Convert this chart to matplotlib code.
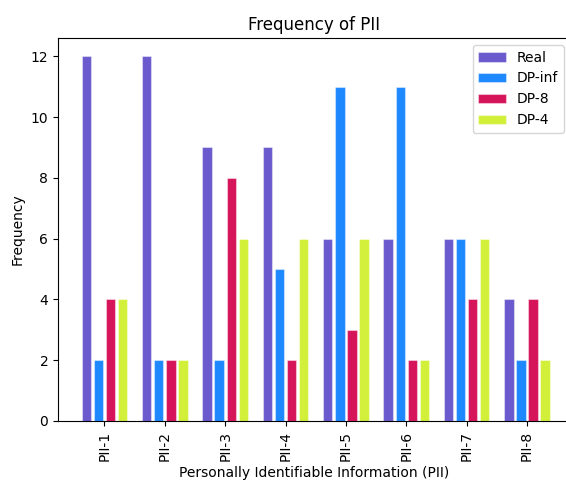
import matplotlib
matplotlib.use("Agg")
import matplotlib.pyplot as plt
import numpy as np

categories = ["PII-1", "PII-2", "PII-3", "PII-4", "PII-5", "PII-6", "PII-7", "PII-8"]
series_names = ["Real", "DP-inf", "DP-8", "DP-4"]
real = [12, 12, 9, 9, 6, 6, 6, 4]
dp_inf = [2, 2, 2, 5, 11, 11, 6, 2]
dp_8 = [4, 2, 8, 2, 3, 2, 4, 4]
dp_4 = [4, 2, 6, 6, 6, 2, 6, 2]
colors = ["#6A5ACD", "#1E88FF", "#D6145A", "#D2F03A"]

fig = plt.figure(figsize=(5.66, 4.82), dpi=100)
ax = fig.add_axes([58/566, 1-421/482, (571-58)/566, (421-38)/482])
x = np.arange(len(categories))
step = 0.2
width = 0.155
for i, (name, vals) in enumerate(zip(series_names, [real, dp_inf, dp_8, dp_4])):
    ax.bar(x + (i - 1.5) * step, vals, width, label=name, color=colors[i],
           edgecolor="#ffffff66", linewidth=0.8)
ax.set_xticks(x)
ax.set_xticklabels(categories, rotation=90)
ax.set_xlim(-0.77, 7.73)
ax.set_xlabel("Personally Identifiable Information (PII)")
ax.set_ylabel("Frequency")
ax.set_title("Frequency of PII")
ax.legend(loc="upper right")
fig.savefig("out.png", dpi=100)
